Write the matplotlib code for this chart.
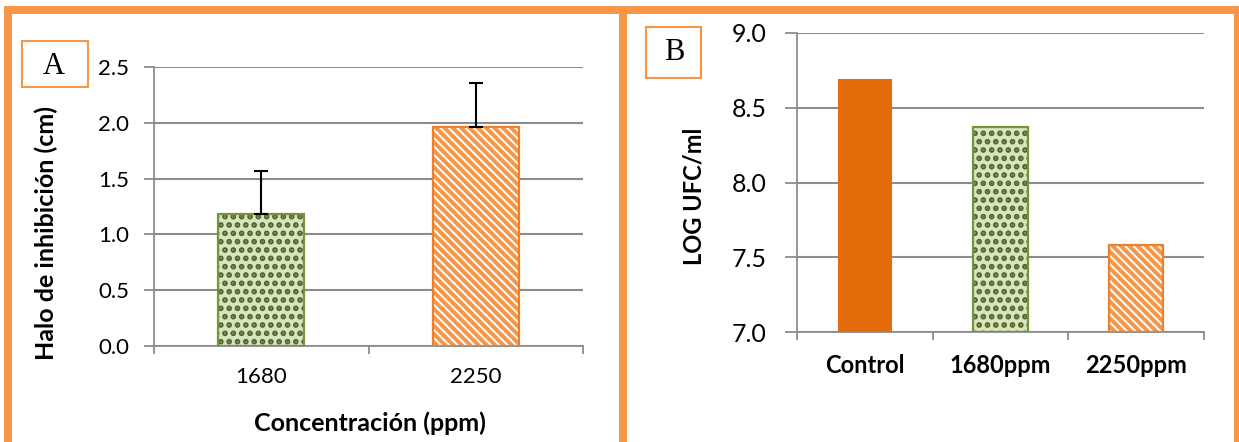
import numpy as np
import matplotlib.pyplot as plt
from matplotlib.patches import Rectangle

# Panel A: halo de inhibicion
conc_labels = ['1680', '2250']
halo = [1.18, 1.96]
halo_err = [0.39, 0.40]

# Panel B: recuento
trat_labels = ['Control', '1680ppm', '2250ppm']
log_ufc = [8.69, 8.37, 7.58]

W, H = 1239, 442
plt.rcParams['font.family'] = ['Lato', 'DejaVu Sans']
plt.rcParams['hatch.linewidth'] = 2.8
fig = plt.figure(figsize=(W / 100, H / 100), dpi=100)

orange = '#F79646'
grid_c = '#8C8C8C'

def px_rect(x0, y0, x1, y1, **kw):
    # rectangle given in picture pixels (y down)
    r = Rectangle((x0 / W, 1 - y1 / H), (x1 - x0) / W, (y1 - y0) / H,
                  transform=fig.transFigure, **kw)
    fig.add_artist(r)
    return r

def style_axes(ax, ncat, tsize, ypad, ytick_len):
    ax.set_xlim(-0.5, ncat - 0.5)
    ax.set_xticks(np.arange(ncat + 1) - 0.5)
    ax.set_xticklabels([])
    ax.tick_params(axis='x', which='major', length=6, width=1.3, color=grid_c)
    ax.tick_params(axis='y', length=ytick_len, width=1.3, color=grid_c,
                   labelsize=tsize, pad=ypad)
    for s in ['top', 'right']:
        ax.spines[s].set_visible(False)
    for s in ['left', 'bottom']:
        ax.spines[s].set_color(grid_c)
        ax.spines[s].set_linewidth(1.3)
    ax.yaxis.grid(True, color=grid_c, linewidth=1.5)
    ax.set_axisbelow(True)

def dotted_bar(ax, x, h, bottom=0):
    ax.bar(x, h, 0.4, bottom=bottom, color='#D7E4BD', edgecolor='#4F6228',
           hatch='..', linewidth=0, zorder=2)
    ax.bar(x, h, 0.4, bottom=bottom, facecolor='none', edgecolor='#77933C',
           linewidth=1.6, zorder=3)

def striped_bar(ax, x, h, bottom=0):
    ax.bar(x, h, 0.4, bottom=bottom, color='white', edgecolor='#F79646',
           hatch='\\\\\\\\', linewidth=0, zorder=2)
    ax.bar(x, h, 0.4, bottom=bottom, facecolor='none', edgecolor='#F07F2A',
           linewidth=1.6, zorder=3)

# ---- Panel A ----
axA = fig.add_axes([154 / W, 1 - 346 / H, (583 - 154) / W, (346 - 67) / H])
xa = np.arange(len(conc_labels))
dotted_bar(axA, xa[0], halo[0])
striped_bar(axA, xa[1], halo[1])
axA.errorbar(xa, halo, yerr=[np.zeros(len(halo)), halo_err], fmt='none',
             ecolor='black', elinewidth=1.5, capsize=5, capthick=1.5, zorder=4)
style_axes(axA, len(conc_labels), 16, 11, 7)
axA.set_xticks(xa, minor=True)
axA.set_xticklabels(conc_labels, minor=True, fontsize=16)
axA.tick_params(axis='x', which='minor', length=0, pad=15)
axA.set_ylim(0, 2.5)
axA.set_yticks(np.arange(0, 2.51, 0.5))
axA.set_yticklabels([f'{v:.1f}' for v in np.arange(0, 2.51, 0.5)])
axA.set_ylabel('Halo de inhibición (cm)', fontsize=18, fontweight='bold')
axA.yaxis.set_label_coords(-0.224, 0.405)
axA.set_xlabel('Concentración (ppm)', fontsize=18, fontweight='bold')
axA.xaxis.set_label_coords(0.503, -0.235)

# ---- Panel B ----
axB = fig.add_axes([797 / W, 1 - 332 / H, (1204 - 797) / W, (332 - 33) / H])
xb = np.arange(len(trat_labels))
axB.bar(xb[0], log_ufc[0] - 7, 0.4, bottom=7, color='#E46C0A', linewidth=0, zorder=2)
dotted_bar(axB, xb[1], log_ufc[1] - 7, bottom=7)
striped_bar(axB, xb[2], log_ufc[2] - 7, bottom=7)
style_axes(axB, len(trat_labels), 18, 13, 9)
axB.set_xticks(xb, minor=True)
axB.set_xticklabels(trat_labels, minor=True, fontsize=17, fontweight='bold')
axB.tick_params(axis='x', which='minor', length=0, pad=16)
axB.set_ylim(7, 9)
axB.set_yticks(np.arange(7, 9.01, 0.5))
axB.set_yticklabels([f'{v:.1f}' for v in np.arange(7, 9.01, 0.5)])
axB.set_ylabel('LOG UFC/ml', fontsize=17, fontweight='bold')
axB.yaxis.set_label_coords(-0.226, 0.455)

# ---- frame and letter boxes ----
px_rect(4, 6, 1239, 14, color=orange, linewidth=0)
px_rect(4, 6, 12, 442, color=orange, linewidth=0)
px_rect(619, 6, 627, 442, color=orange, linewidth=0)
px_rect(1234, 6, 1239, 442, color=orange, linewidth=0)

px_rect(22, 41, 88, 87, facecolor='white', edgecolor=orange, linewidth=1.5)
px_rect(646, 27, 701, 78, facecolor='white', edgecolor=orange, linewidth=1.5)
fig.text(54 / W, 1 - 66 / H, 'A', fontsize=22, family='Liberation Serif',
         ha='center', va='center')
fig.text(674 / W, 1 - 53 / H, 'B', fontsize=22, family='Liberation Serif',
         ha='center', va='center')

fig.savefig('out.png', dpi=100)
